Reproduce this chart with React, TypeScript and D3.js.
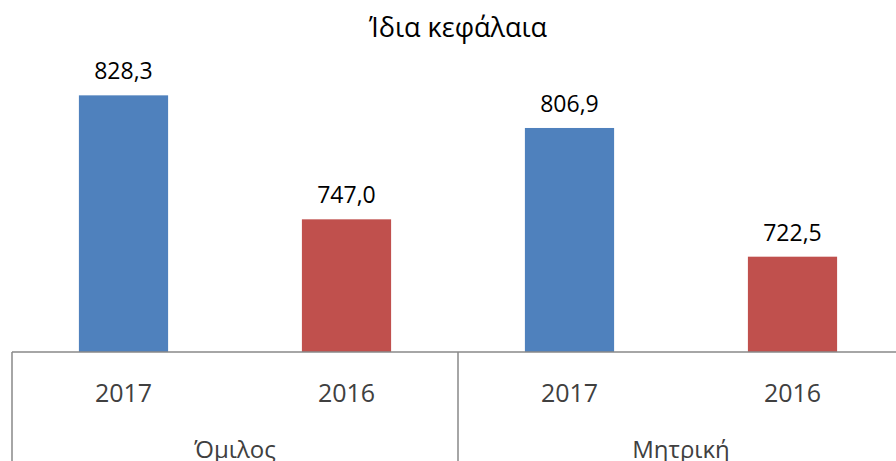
import React from 'react';
import * as d3 from 'd3';

const title = 'Ίδια κεφάλαια';
const groups = ['Όμιλος', 'Μητρική'];
const years = ['2017', '2016', '2017', '2016'];
const values = [828.3, 747.0, 806.9, 722.5];
const seriesColors = ['#4F81BD', '#C0504D', '#4F81BD', '#C0504D'];
const yDomain = [660, 850];

const W = 896;
const H = 461;
const left = 12;
const right = 904;
const base = 352;
const FONT = '"Open Sans", "Noto Sans", sans-serif';

const fmt = d3.formatLocale({ decimal: ',', thousands: '.', grouping: [3], currency: ['', '€'] }).format('.1f');

export default function App() {
  const idx = values.map((_, i) => i);
  const x = d3.scaleBand<number>().domain(idx).range([left, right]).paddingInner(0.6).paddingOuter(0.3);
  const y = d3.scaleLinear().domain(yDomain).range([base, base - (yDomain[1] - yDomain[0]) * 1.525]);
  const gx = d3.scaleBand<string>().domain(groups).range([left, right]);

  return (
    <svg width={W} height={H} style={{ position: 'absolute', left: 0, top: 0, background: '#fff' }} fontFamily={FONT}>
      <rect x={0} y={0} width={W} height={H} fill="#fff" />
      <text x={458} y={37} textAnchor="middle" fontSize={27} fill="#000">{title}</text>
      {values.map((v, i) => (
        <g key={i}>
          <rect x={x(i)} y={y(v)} width={x.bandwidth()} height={base - y(v)} fill={seriesColors[i]} />
          <text x={(x(i) as number) + x.bandwidth() / 2} y={y(v) - 16} textAnchor="middle" fontSize={23} fill="#000">{fmt(v)}</text>
          <text x={(x(i) as number) + x.bandwidth() / 2} y={402} textAnchor="middle" fontSize={25} fill="#404040">{years[i]}</text>
        </g>
      ))}
      <line x1={left} x2={W} y1={base} y2={base} stroke="#898989" strokeWidth={1.5} />
      {groups.map((g) => (
        <g key={g}>
          <line x1={gx(g)} x2={gx(g)} y1={base} y2={H} stroke="#898989" strokeWidth={1.5} />
          <text x={(gx(g) as number) + gx.bandwidth() / 2} y={458} textAnchor="middle" fontSize={24} fill="#404040">{g}</text>
        </g>
      ))}
    </svg>
  );
}
